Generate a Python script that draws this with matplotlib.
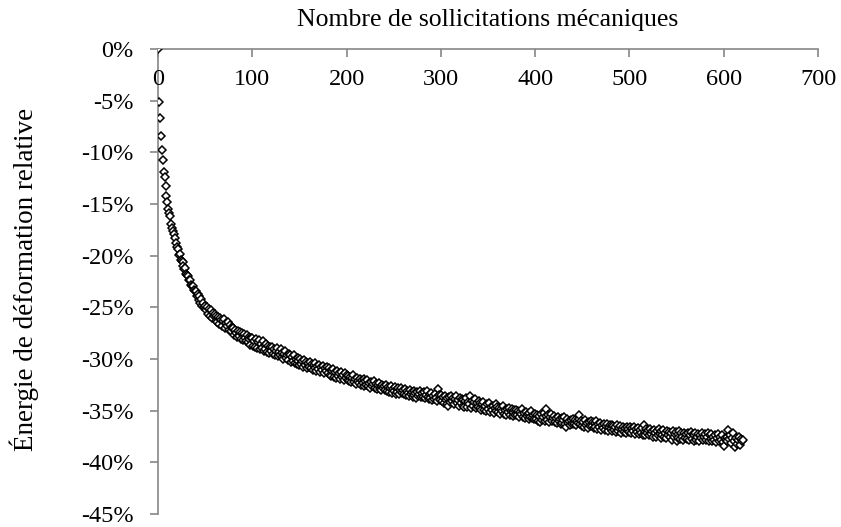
import numpy as np
import matplotlib.pyplot as plt
from matplotlib.ticker import FuncFormatter

plt.rcParams['font.family'] = ['Liberation Serif', 'DejaVu Serif']
plt.rcParams['axes.unicode_minus'] = False

# énergie de déformation relative (%) pour chaque sollicitation, de 0 à 620
energie = [
    0.0, -5.1, -6.7, -8.4, -9.8, -10.7, -11.9, -12.4, -13.3, -14.2, -14.8, -15.5, -15.9, -16.2, -16.9, -17.3, -17.6, -17.9, -18.3, -18.8,
    -19.2, -19.4, -19.9, -19.8, -20.4, -20.5, -20.6, -21.0, -21.3, -21.2, -21.8, -21.9, -22.0, -22.4, -22.4, -22.8, -22.9, -22.9, -23.3, -23.4,
    -23.4, -23.9, -23.7, -24.3, -23.9, -24.6, -24.2, -24.9, -24.6, -25.0, -24.9, -25.3, -25.0, -25.6, -25.2, -25.8, -25.3, -26.0, -25.5, -25.8,
    -25.6, -26.3, -25.8, -26.4, -25.9, -26.6, -26.0, -26.2, -26.8, -26.3, -26.1, -27.0, -26.5, -26.8, -26.4, -27.2, -26.7, -27.3, -26.9, -27.0,
    -27.0, -27.7, -27.2, -27.5, -27.9, -27.3, -27.8, -27.4, -28.1, -27.5, -28.2, -27.6, -28.0, -28.3, -27.7, -28.4, -27.9, -28.1, -28.6, -28.0,
    -28.0, -28.7, -28.3, -28.8, -28.1, -28.9, -28.4, -28.2, -29.0, -28.5, -28.9, -28.3, -29.2, -28.6, -29.0, -28.5, -29.3, -28.7, -29.4, -28.8,
    -29.2, -28.8, -29.5, -29.0, -29.6, -29.2, -28.9, -29.7, -29.3, -29.6, -29.0, -29.8, -29.4, -30.0, -29.5, -29.2, -29.9, -29.6, -30.1, -29.5,
    -29.6, -30.3, -29.8, -30.2, -29.6, -30.4, -30.0, -30.5, -29.9, -30.2, -30.6, -30.0, -30.5, -30.2, -30.8, -30.1, -30.6, -30.3, -30.9, -30.4,
    -30.8, -30.3, -30.9, -30.5, -31.1, -30.6, -30.9, -30.4, -31.2, -30.7, -31.0, -30.6, -31.3, -30.8, -31.1, -30.7, -31.4, -30.9, -31.2, -30.8,
    -31.4, -30.9, -31.5, -31.1, -31.6, -31.2, -31.0, -31.7, -31.3, -31.8, -31.2, -31.6, -31.4, -31.9, -31.3, -31.7, -31.5, -32.0, -31.4, -31.8,
    -31.5, -32.0, -31.6, -32.1, -31.7, -32.2, -31.8, -31.5, -32.2, -31.9, -32.4, -31.8, -32.1, -32.3, -31.9, -32.5, -32.0, -32.3, -31.9, -32.6,
    -32.1, -32.5, -32.0, -32.6, -32.3, -32.8, -32.2, -32.6, -32.4, -32.1, -32.8, -32.4, -32.9, -32.5, -32.3, -32.9, -32.6, -33.0, -32.5, -32.8,
    -32.6, -33.0, -32.5, -33.1, -32.7, -33.2, -32.8, -32.6, -33.3, -32.9, -33.1, -32.7, -33.4, -32.9, -33.2, -32.8, -33.4, -33.0, -32.8, -33.3,
    -33.0, -33.4, -32.9, -33.5, -33.1, -33.3, -33.6, -33.0, -33.4, -33.2, -33.7, -33.1, -33.5, -33.3, -33.8, -33.2, -33.6, -33.4, -33.1, -33.7,
    -33.3, -33.7, -33.2, -33.8, -33.5, -33.1, -33.7, -33.9, -33.4, -33.8, -33.3, -34.0, -33.6, -33.9, -33.4, -33.8, -34.1, -32.9, -33.5, -34.0,
    -33.5, -34.1, -33.7, -34.3, -33.6, -34.0, -33.8, -34.4, -34.5, -33.7, -34.2, -33.6, -34.1, -33.8, -34.4, -33.9, -33.6, -34.3, -34.0, -34.5,
    -33.8, -34.3, -33.9, -34.5, -34.0, -34.6, -34.1, -33.8, -34.6, -34.2, -34.4, -33.6, -34.7, -34.1, -34.5, -34.2, -33.9, -34.7, -34.3, -34.6,
    -34.1, -34.7, -34.3, -34.9, -34.4, -34.2, -34.9, -34.5, -35.0, -34.4, -34.8, -34.3, -35.1, -34.6, -34.9, -34.5, -35.2, -34.7, -34.4, -35.0,
    -34.6, -35.1, -34.7, -35.3, -34.8, -35.0, -34.5, -35.3, -34.9, -35.4, -34.8, -35.1, -34.7, -35.4, -35.0, -34.8, -35.5, -35.1, -34.9, -35.4,
    -34.9, -35.4, -35.0, -35.6, -35.1, -35.3, -34.8, -35.6, -35.2, -35.7, -35.1, -35.5, -35.3, -35.8, -35.2, -35.6, -35.0, -35.7, -35.4, -35.8,
    -35.3, -35.8, -35.4, -36.0, -35.5, -36.1, -35.3, -35.9, -35.6, -35.2, -36.0, -35.5, -34.8, -35.9, -35.4, -36.1, -35.6, -35.3, -36.0, -35.7,
    -35.5, -36.1, -35.7, -36.2, -35.6, -36.0, -35.8, -36.3, -35.7, -36.2, -35.9, -35.6, -36.3, -36.6, -35.8, -36.2, -36.0, -36.4, -35.9, -36.3,
    -35.8, -36.3, -35.9, -36.4, -36.0, -36.2, -35.8, -35.4, -36.3, -36.0, -36.5, -36.1, -36.6, -35.9, -36.4, -36.2, -36.7, -36.1, -36.5, -36.0,
    -36.5, -36.1, -36.7, -36.2, -36.6, -36.0, -36.8, -36.3, -36.6, -36.2, -36.9, -36.4, -36.7, -36.3, -36.9, -36.5, -36.3, -37.0, -36.6, -36.4,
    -36.8, -36.4, -37.0, -36.5, -36.9, -36.6, -37.1, -36.4, -37.0, -36.7, -36.5, -37.2, -36.8, -36.6, -37.1, -36.7, -37.2, -36.6, -37.0, -36.8,
    -37.1, -36.6, -37.2, -36.7, -37.0, -36.6, -37.3, -36.8, -37.1, -36.7, -37.3, -36.9, -37.2, -36.7, -37.4, -36.4, -37.1, -37.4, -36.8, -37.2,
    -36.9, -37.4, -36.8, -37.3, -37.0, -37.5, -36.9, -37.2, -37.5, -37.0, -37.4, -36.8, -37.3, -37.6, -37.0, -37.4, -36.9, -37.5, -37.2, -37.6,
    -37.0, -37.4, -37.1, -37.5, -37.2, -37.8, -37.0, -37.5, -37.3, -37.1, -37.9, -37.3, -37.6, -37.0, -37.7, -37.2, -37.5, -37.8, -37.2, -37.6,
    -37.3, -37.7, -37.2, -37.8, -37.4, -37.1, -37.7, -37.3, -37.9, -37.4, -37.2, -37.8, -37.5, -37.3, -37.9, -37.4, -37.6, -37.2, -37.8, -37.5,
    -37.3, -37.8, -37.5, -37.2, -37.9, -37.4, -37.7, -37.3, -37.9, -37.5, -37.8, -37.4, -38.0, -37.6, -37.3, -37.9, -37.5, -37.8, -37.4, -38.0,
    -38.4, -37.6, -37.8, -37.5, -37.9, -36.9, -37.7, -37.4, -38.1, -37.6, -37.2, -37.9, -38.5, -37.6, -38.2, -37.8, -37.5, -38.3, -37.7, -37.9,
    -37.8,
]
sollicitations = np.arange(len(energie))

x_ticks = [0, 100, 200, 300, 400, 500, 600, 700]
y_ticks = [0, -5, -10, -15, -20, -25, -30, -35, -40, -45]

GRIS = '#868686'

fig = plt.figure(figsize=(8.41, 5.27), dpi=100)
ax = fig.add_axes([158 / 841, 13 / 527, 660 / 841, 465 / 527])

ax.plot(sollicitations, energie, linestyle='none', marker='D', markersize=4.2,
        markerfacecolor='white', markeredgecolor='black', markeredgewidth=1.1, zorder=3)

ax.set_xlim(0, 700)
ax.set_ylim(-45, 0)
ax.set_xticks(x_ticks)
ax.set_yticks(y_ticks)
ax.yaxis.set_major_formatter(FuncFormatter(lambda v, p: f"{int(round(v))}%"))

# axe des abscisses placé en y = 0 (en haut)
ax.spines['bottom'].set_position(('data', 0))
ax.spines['top'].set_visible(False)
ax.spines['right'].set_visible(False)
for s in ['bottom', 'left']:
    ax.spines[s].set_color(GRIS)
    ax.spines[s].set_linewidth(1.2)
ax.spines['left'].set_zorder(1)

ax.tick_params(axis='x', direction='out', length=5.5, width=1.2, color=GRIS,
               pad=9, labelsize=17.5, labelcolor='black')
ax.tick_params(axis='y', direction='out', length=5.5, width=1.2, color=GRIS,
               pad=12, labelsize=17.5, labelcolor='black')

fig.text(488 / 841, 1 - 20 / 527, "Nombre de sollicitations mécaniques",
         fontsize=18.5, ha='center', va='center')
fig.text(24 / 841, 1 - 279 / 527, "Énergie de déformation relative",
         fontsize=19.5, ha='center', va='center', rotation=90)

fig.savefig('out.png', dpi=100)
